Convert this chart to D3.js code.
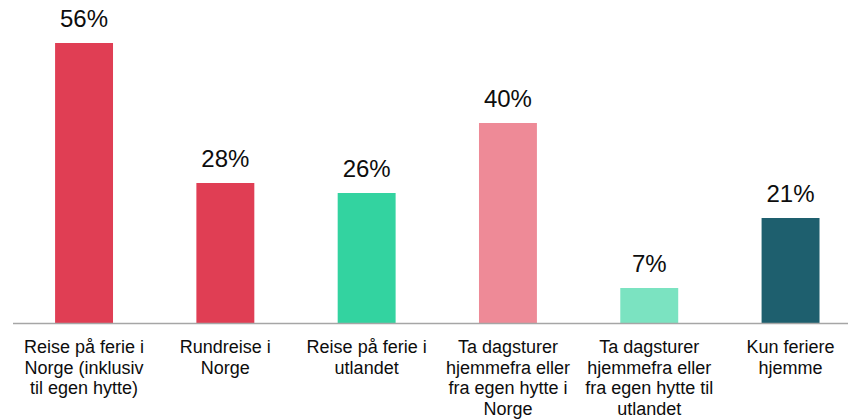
<!DOCTYPE html>
<html>
<head>
<meta charset="utf-8">
<script src="https://cdn.jsdelivr.net/npm/d3@7"></script>
<style>
  body { margin: 0; background: #fff; }
  svg { display: block; font-family: "Liberation Sans", Arial, sans-serif; }
</style>
</head>
<body>
<div id="chart"></div>
<script>
// data
const categories = [
  "Reise på ferie i Norge (inklusiv til egen hytte)",
  "Rundreise i Norge",
  "Reise på ferie i utlandet",
  "Ta dagsturer hjemmefra eller fra egen hytte i Norge",
  "Ta dagsturer hjemmefra eller fra egen hytte til utlandet",
  "Kun feriere hjemme"
];
// how each label breaks over lines
const labelLines = [
  ["Reise på ferie i", "Norge (inklusiv", "til egen hytte)"],
  ["Rundreise i", "Norge"],
  ["Reise på ferie i", "utlandet"],
  ["Ta dagsturer", "hjemmefra eller", "fra egen hytte i", "Norge"],
  ["Ta dagsturer", "hjemmefra eller", "fra egen hytte til", "utlandet"],
  ["Kun feriere", "hjemme"]
];
const values = [56, 28, 26, 40, 7, 21];
const barColors = ["#e03e54", "#e03e54", "#33d3a0", "#ee8a97", "#7be3c1", "#1e5f6e"];

const width = 848, height = 419;
const baseY = 323;

const svg = d3.select("#chart").append("svg")
  .attr("width", width)
  .attr("height", height);

const x = d3.scaleBand()
  .domain(categories)
  .range([13.4, 13.4 + 6 * 141.3])
  .paddingInner(0.59)
  .paddingOuter(0.295);

const y = d3.scaleLinear()
  .domain([0, 60])
  .range([baseY, baseY - 300]);

const color = d3.scaleOrdinal().domain(categories).range(barColors);

const rows = categories.map((c, i) => ({ cat: c, value: values[i], lines: labelLines[i] }));

// bars
svg.selectAll("rect.bar")
  .data(rows)
  .join("rect")
  .attr("class", "bar")
  .attr("x", d => x(d.cat))
  .attr("y", d => y(d.value))
  .attr("width", x.bandwidth())
  .attr("height", d => y(0) - y(d.value))
  .attr("fill", d => color(d.cat));

// value labels
svg.selectAll("text.val")
  .data(rows)
  .join("text")
  .attr("class", "val")
  .attr("x", d => x(d.cat) + x.bandwidth() / 2)
  .attr("y", d => y(d.value) - 16)
  .attr("text-anchor", "middle")
  .attr("font-size", 24)
  .attr("fill", "#0d0d0d")
  .text(d => d.value + "%");

// axis line
svg.append("line")
  .attr("x1", 13)
  .attr("x2", width)
  .attr("y1", y(0) + 0.5)
  .attr("y2", y(0) + 0.5)
  .attr("stroke", "#a6a6a6")
  .attr("stroke-width", 1.5);

// category labels
const lab = svg.selectAll("text.cat")
  .data(rows)
  .join("text")
  .attr("class", "cat")
  .attr("text-anchor", "middle")
  .attr("font-size", 18)
  .attr("fill", "#0d0d0d");

lab.selectAll("tspan")
  .data(d => d.lines.map(l => ({ l, cx: x(d.cat) + x.bandwidth() / 2 })))
  .join("tspan")
  .attr("x", d => d.cx)
  .attr("y", (d, i) => 353 + i * 20.7)
  .text(d => d.l);
</script>
</body>
</html>
